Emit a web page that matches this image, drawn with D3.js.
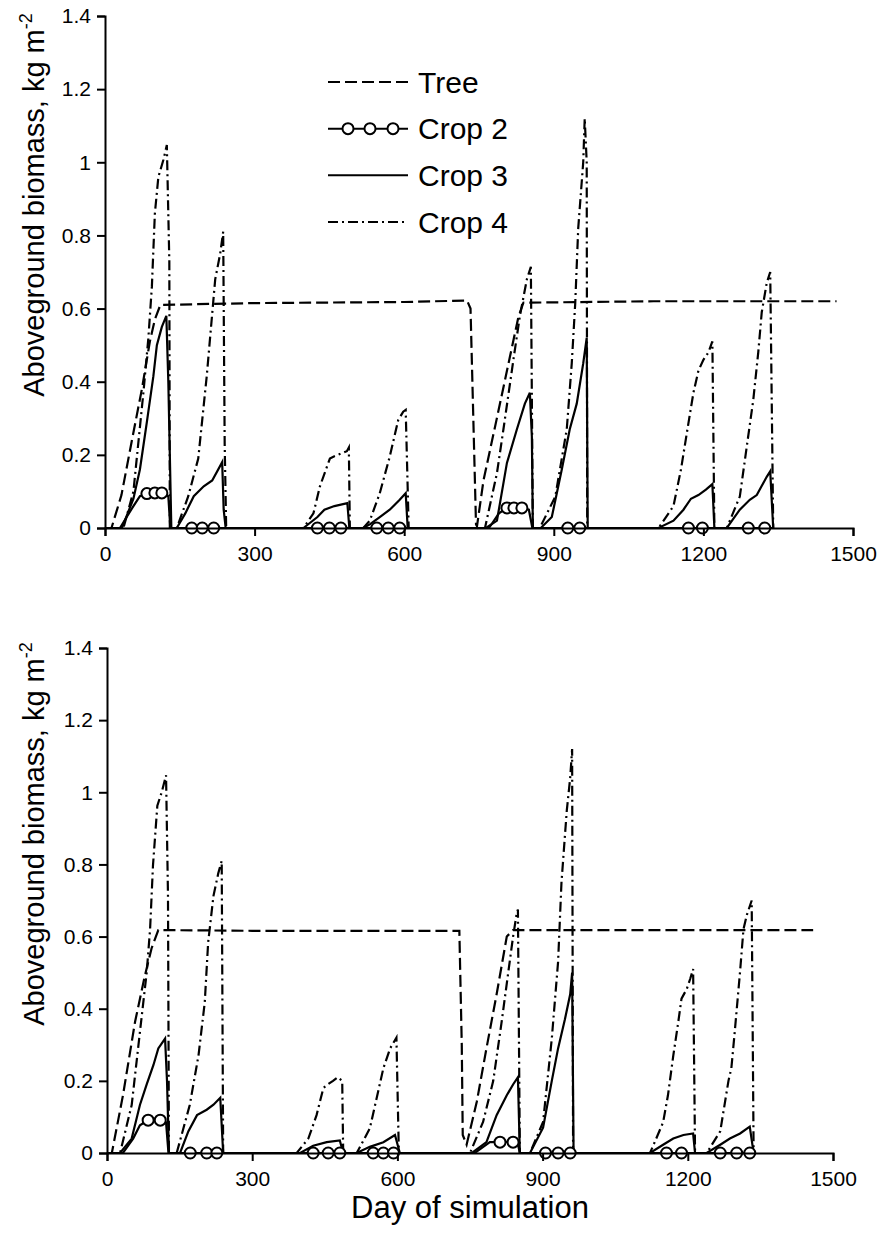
<!DOCTYPE html>
<html>
  <head>
  <title>Aboveground biomass</title>
  <style>
    body, html {
      margin: 0;
      padding: 0;
      background: #fff;
    }
    svg text {
      font-family: "Liberation Sans", Arial, sans-serif;
      fill: #000;
    }
  </style>
  </head>
  <body>

  <svg id="svg" width="885" height="1249"></svg>
  <script src="https://d3js.org/d3.v7.min.js"></script>
  <script>
      // [day, kg m-2]
      const treeTop = [[0,0],[13,0],[33,0.09],[54,0.24],[74,0.38],[90,0.51],[100,0.57],[111,0.61],[300,0.615],[600,0.618],[726,0.622],[733,0.6],[744,0.01],[746,0.005],[759,0.13],[785,0.295],[812,0.468],[829,0.577],[839,0.616],[1100,0.62],[1467,0.62]]
      const crop2Top = [[0,0],[30,0],[57,0.06],[70,0.087],[84,0.094],[100,0.096],[114,0.096],[127,0.087],[131,0],[770,0],[790,0.04],[806,0.055],[820,0.055],[836,0.055],[850,0.05],[857,0],[1340,0]]
      const crop2MarksTop = [[84,0.094],[100,0.096],[114,0.096],[174,0],[195,0],[218,0],[426,0],[450,0],[473,0],[545,0],[568,0],[591,0],[806,0.055],[820,0.055],[836,0.055],[928,0],[952,0],[1170,0],[1198,0],[1290,0],[1323,0]]
      const crop3Top = [[0,0],[34,0],[57,0.08],[70,0.16],[84,0.29],[97,0.415],[104,0.5],[114,0.55],[123,0.58],[127,0.4],[133,0],
        [144,0],[161,0.04],[178,0.087],[198,0.114],[215,0.13],[235,0.18],[238,0.05],[242,0],
        [398,0],[426,0.03],[440,0.05],[460,0.06],[486,0.068],[490,0],
        [518,0],[531,0.01],[551,0.03],[571,0.05],[591,0.077],[603,0.095],[607,0],
        [764,0],[786,0.02],[806,0.178],[826,0.27],[842,0.34],[852,0.37],[856,0.25],[858,0],
        [874,0],[896,0.03],[916,0.16],[932,0.27],[946,0.34],[959,0.45],[966,0.52],[968,0],
        [1110,0],[1140,0.02],[1160,0.05],[1175,0.08],[1190,0.09],[1205,0.105],[1218,0.12],[1222,0],
        [1247,0],[1273,0.05],[1293,0.077],[1307,0.09],[1327,0.14],[1334,0.155],[1340,0]]
      const crop4Top = [[0,0],[37,0],[57,0.1],[77,0.37],[87,0.52],[94,0.66],[100,0.86],[107,0.96],[117,1.006],[124,1.047],[129,0.73],[130,0],
        [144,0],[167,0.087],[187,0.19],[204,0.415],[221,0.68],[231,0.75],[237,0.81],[240,0.23],[243,0],
        [398,0],[418,0.04],[431,0.114],[451,0.19],[460,0.196],[485,0.21],[489,0.22],[491,0],
        [518,0],[531,0.02],[551,0.095],[571,0.195],[588,0.295],[598,0.318],[603,0.323],[609,0],
        [762,0],[786,0.15],[799,0.27],[819,0.46],[832,0.58],[846,0.68],[854,0.714],[858,0],
        [872,0],[903,0.086],[926,0.27],[936,0.45],[943,0.615],[949,0.82],[959,1.0],[962,1.12],[966,1.0],[967,0],
        [1110,0],[1140,0.06],[1155,0.16],[1168,0.27],[1180,0.37],[1190,0.43],[1200,0.46],[1210,0.48],[1218,0.51],[1222,0],
        [1247,0],[1273,0.086],[1300,0.35],[1310,0.48],[1317,0.59],[1327,0.67],[1334,0.7],[1340,0]]

      const treeBottom = [[0,0],[10,0],[33,0.16],[58,0.364],[78,0.49],[92,0.567],[106,0.618],[300,0.616],[600,0.616],[728,0.616],[733,0.3],[735,0.05],[743,0.023],[764,0.142],[784,0.29],[805,0.44],[826,0.6],[839,0.618],[1100,0.618],[1459,0.618]]
      const crop2Bottom = [[0,0],[33,0],[54,0.04],[68,0.077],[85,0.091],[110,0.091],[122,0.085],[127,0],[760,0],[791,0.03],[812,0.03],[839,0.03],[848,0.03],[853,0],[1336,0]]
      const crop2MarksBottom = [[85,0.091],[110,0.091],[172,0],[206,0],[227,0],[426,0],[457,0],[481,0],[550,0],[571,0],[592,0],[812,0.03],[839,0.03],[906,0],[932,0],[957,0],[1156,0],[1187,0],[1267,0],[1301,0],[1328,0]]
      const crop3Bottom = [[0,0],[27,0],[51,0.04],[68,0.133],[82,0.19],[96,0.244],[106,0.29],[120,0.317],[124,0.2],[128,0],
        [151,0],[168,0.06],[186,0.105],[206,0.12],[220,0.134],[234,0.153],[240,0],
        [399,0],[426,0.02],[454,0.03],[481,0.035],[488,0],
        [516,0],[543,0.017],[571,0.03],[595,0.05],[605,0],
        [754,0],[784,0.03],[805,0.105],[826,0.16],[839,0.19],[849,0.21],[853,0],
        [874,0],[901,0.07],[919,0.2],[932,0.29],[946,0.37],[957,0.44],[961,0.5],[964,0],
        [1122,0],[1149,0.023],[1170,0.04],[1191,0.05],[1211,0.054],[1215,0],
        [1239,0],[1267,0.023],[1287,0.04],[1308,0.054],[1328,0.073],[1336,0]]
      const crop4Bottom = [[0,0],[27,0],[51,0.133],[68,0.335],[82,0.5],[89,0.62],[95,0.797],[104,0.963],[113,1.0],[122,1.047],[126,0.715],[128,0],
        [144,0],[171,0.133],[189,0.27],[202,0.418],[209,0.584],[220,0.713],[230,0.776],[237,0.81],[240,0],
        [392,0],[416,0.04],[433,0.105],[447,0.18],[456,0.19],[467,0.2],[477,0.21],[486,0.2],[488,0],
        [516,0],[543,0.068],[571,0.235],[585,0.29],[598,0.32],[603,0],
        [750,0],[777,0.086],[798,0.2],[815,0.36],[829,0.5],[839,0.6],[846,0.66],[849,0.675],[853,0],
        [874,0],[901,0.086],[919,0.317],[932,0.53],[939,0.75],[950,0.95],[957,1.04],[961,1.12],[963,0],
        [1122,0],[1149,0.085],[1159,0.16],[1170,0.27],[1180,0.36],[1187,0.428],[1198,0.455],[1205,0.483],[1211,0.51],[1215,0],
        [1239,0],[1267,0.06],[1284,0.2],[1290,0.235],[1297,0.336],[1308,0.503],[1315,0.62],[1322,0.66],[1332,0.7],[1336,0]]

      const xTicks = [0, 300, 600, 900, 1200, 1500]
      const yTicks = [0, 0.2, 0.4, 0.6, 0.8, 1, 1.2, 1.4]
      const legendNames = ['Tree', 'Crop 2', 'Crop 3', 'Crop 4']

      const treeDash = '12,5'
      const crop4Dash = '10,4,2,4'

      const svg = d3.select('#svg')

      function drawPanel(p) {
        const x = d3.scaleLinear().domain([0, 1500]).range([p.left, p.right])
        const y = d3.scaleLinear().domain([0, 1.4]).range([p.bottom, p.top])
        const g = svg.append('g')

        const line = d3.line().x(d => x(d[0])).y(d => y(d[1]))

        g.append('path').datum(p.tree).attr('d', line)
            .attr('fill', 'none').attr('stroke', '#000').attr('stroke-width', 2.2)
            .attr('stroke-dasharray', treeDash)
        g.append('path').datum(p.crop4).attr('d', line)
            .attr('fill', 'none').attr('stroke', '#000').attr('stroke-width', 2.2)
            .attr('stroke-dasharray', crop4Dash)
        g.append('path').datum(p.crop3).attr('d', line)
            .attr('fill', 'none').attr('stroke', '#000').attr('stroke-width', 2.2)
        g.append('path').datum(p.crop2).attr('d', line)
            .attr('fill', 'none').attr('stroke', '#000').attr('stroke-width', 2.2)
        g.selectAll('circle.m').data(p.marks).join('circle')
            .attr('class', 'm')
            .attr('cx', d => x(d[0])).attr('cy', d => y(d[1]))
            .attr('r', 5.5)
            .attr('fill', '#fff').attr('stroke', '#000').attr('stroke-width', 2)

        const xAxis = g.append('g')
            .attr('transform', `translate(0,${p.bottom})`)
            .call(d3.axisBottom(x).tickValues(xTicks).tickSize(8).tickPadding(10).tickFormat(d3.format('d')))
        const yAxis = g.append('g')
            .attr('transform', `translate(${p.left},0)`)
            .call(d3.axisLeft(y).tickValues(yTicks).tickSize(8).tickPadding(6).tickFormat(d => d3.format('')(+d.toFixed(1))))
        for (const a of [xAxis, yAxis]) {
          a.select('.domain').attr('stroke-width', 2)
          a.selectAll('.tick line').attr('stroke-width', 2)
          a.selectAll('.tick text')
              .style('font-family', '"Liberation Sans", Arial, sans-serif')
              .style('font-size', '21px')
        }

        const yt = g.append('text')
            .attr('transform', `translate(44,${p.titleY}) rotate(-90)`)
            .style('text-anchor', 'middle')
            .style('font-size', '29px')
        yt.append('tspan').text('Aboveground biomass, kg m')
        yt.append('tspan').text('-2').attr('dy', -12).style('font-size', '18px')
        return { x, y }
      }

      drawPanel({ left: 105, right: 853, top: 16, bottom: 528, titleY: 205,
        tree: treeTop, crop2: crop2Top, crop3: crop3Top, crop4: crop4Top, marks: crop2MarksTop })
      drawPanel({ left: 107, right: 833, top: 648, bottom: 1153, titleY: 834,
        tree: treeBottom, crop2: crop2Bottom, crop3: crop3Bottom, crop4: crop4Bottom, marks: crop2MarksBottom })

      svg.append('text')
          .attr('x', 470).attr('y', 1218)
          .style('text-anchor', 'middle')
          .style('font-size', '31px')
          .text('Day of simulation')

      // legend
      const legend = svg.append('g')
      const rowY = d3.scalePoint().domain(legendNames).range([82, 222])
      const styles = { 'Tree': treeDash, 'Crop 2': null, 'Crop 3': null, 'Crop 4': crop4Dash }
      legendNames.forEach(name => {
        const yy = rowY(name)
        legend.append('line')
            .attr('x1', 328).attr('x2', 408).attr('y1', yy).attr('y2', yy)
            .attr('stroke', '#000').attr('stroke-width', 2)
            .attr('stroke-dasharray', styles[name])
        if (name === 'Crop 2') {
          legend.selectAll('circle.lg').data([348, 370, 393]).join('circle')
              .attr('class', 'lg')
              .attr('cx', d => d).attr('cy', yy).attr('r', 5.5)
              .attr('fill', '#fff').attr('stroke', '#000').attr('stroke-width', 2)
        }
        legend.append('text')
            .attr('x', 418).attr('y', yy)
            .attr('dy', '0.36em')
            .style('font-size', '30px')
            .text(name)
      })
  </script>
</body>
</html>
